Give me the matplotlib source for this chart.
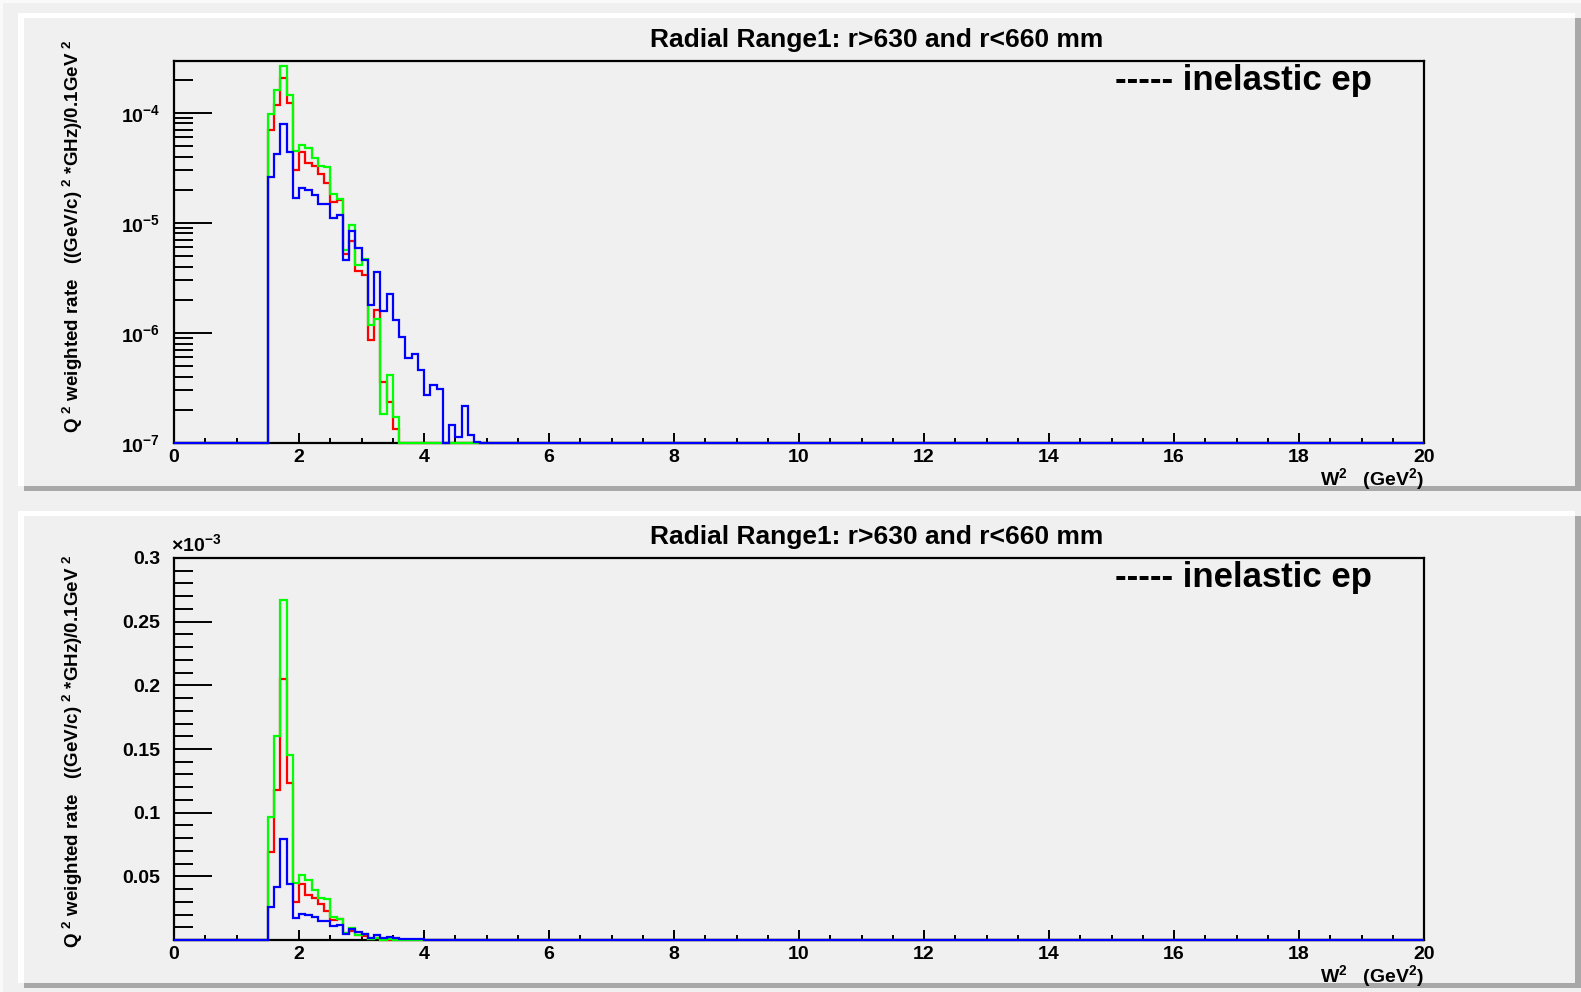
import numpy as np
import matplotlib
matplotlib.use("Agg")
import matplotlib.pyplot as plt
from matplotlib.patches import Rectangle
from matplotlib.ticker import (FixedLocator, FixedFormatter, MultipleLocator,
                               LogLocator, NullFormatter)

plt.rcParams["font.family"] = ["Liberation Sans", "DejaVu Sans"]
plt.rcParams["font.weight"] = "bold"
plt.rcParams["mathtext.fontset"] = "custom"
plt.rcParams["mathtext.rm"] = "Liberation Sans:bold"
plt.rcParams["mathtext.it"] = "Liberation Sans:bold"
plt.rcParams["mathtext.bf"] = "Liberation Sans:bold"
plt.rcParams["mathtext.sf"] = "Liberation Sans:bold"

# ---------------------------------------------------------------------------
# Histogram contents, 0.1 GeV^2 bins on 0..20; the lists start at W^2 = 1.5
# ---------------------------------------------------------------------------
bin_edges = np.round(np.arange(0, 20.0001, 0.1), 2)
first_bin = 1.5

rate_red = [6.95e-5, 1.175e-4, 2.05e-4, 1.23e-4, 3.01e-5, 4.36e-5, 3.53e-5,
            3.3e-5, 2.8e-5, 2.31e-5, 1.55e-5, 1.61e-5, 5.26e-6, 6.86e-6,
            3.64e-6, 3.34e-6, 8.69e-7, 1.61e-6, 3.59e-7, 2.36e-7, 1.35e-7]
rate_green = [9.67e-5, 1.6e-4, 2.67e-4, 1.45e-4, 4.49e-5, 5.08e-5, 4.74e-5,
              3.9e-5, 3.3e-5, 3.2e-5, 1.84e-5, 1.64e-5, 5.65e-6, 9.53e-6,
              4.12e-6, 4.74e-6, 1.17e-6, 1.35e-6, 1.85e-7, 4.18e-7, 1.72e-7]
rate_blue = [2.6e-5, 4.18e-5, 7.9e-5, 4.36e-5, 1.69e-5, 2.05e-5, 1.98e-5,
             1.79e-5, 1.48e-5, 1.48e-5, 1.11e-5, 1.17e-5, 4.64e-6, 8.45e-6,
             5.93e-6, 4.58e-6, 1.81e-6, 3.59e-6, 1.57e-6, 2.26e-6, 1.32e-6,
             9.2e-7, 5.93e-7, 6.4e-7, 4.58e-7, 2.71e-7, 3.34e-7, 3.12e-7, 0.0,
             1.47e-7, 1.13e-7, 2.17e-7, 1.19e-7, 1.03e-7, 1.01e-7]

title = "Radial Range1: r>630 and r<660 mm"
legend_text = "----- inelastic ep"
ylabel = "Q $^{2}$ weighted rate   ((GeV/c) $^{2}$ *GHz)/0.1GeV $^{2}$"
xlabel = "W$^{2}$   (GeV$^{2}$)"

log_ticks = [1e-7, 1e-6, 1e-5, 1e-4]
log_labels = ["10$^{-7}$", "10$^{-6}$", "10$^{-5}$", "10$^{-4}$"]
lin_ticks = [0.05, 0.1, 0.15, 0.2, 0.25, 0.3]
lin_labels = ["0.05", "0.1", "0.15", "0.2", "0.25", "0.3"]


def full_hist(vals):
    out = np.zeros(len(bin_edges) - 1)
    i0 = int(round(first_bin / 0.1))
    out[i0:i0 + len(vals)] = vals
    return out


hists = [("#ff0000", full_hist(rate_red)),
         ("#00ff00", full_hist(rate_green)),
         ("#0000ff", full_hist(rate_blue))]

W, H = 1581, 992
fig = plt.figure(figsize=(W / 100, H / 100), dpi=100)
fig.patch.set_facecolor("#f0f0f0")


def frect(x0, y0, x1, y1, color):
    # pixel box (top-left origin) -> figure rectangle
    r = Rectangle((x0 / W, 1 - y1 / H), (x1 - x0) / W, (y1 - y0) / H,
                  transform=fig.transFigure, facecolor=color,
                  edgecolor="none", zorder=-5)
    fig.add_artist(r)


def pad(x0, y0, x1, y1):
    frect(x0, y0, x1, y1, "#f0f0f0")
    frect(x0 - 6, y0 - 5, x1, y0, "white")
    frect(x0 - 6, y0 - 5, x0, y1, "white")
    frect(x0, y1, x1 + 6, y1 + 5, "#a8a8a8")
    frect(x1, y0, x1 + 6, y1 + 5, "#a8a8a8")


# canvas highlight, then the two pads
frect(0, 0, W, 3, "#fafafa")
frect(0, 0, 3, H, "#fafafa")
pad(24, 18, 1575, 486)
pad(24, 516, 1575, 983)

tick_fs = 14


def style_axes(ax):
    ax.set_facecolor("#f0f0f0")
    for s in ax.spines.values():
        s.set_linewidth(1.6)
        s.set_color("black")
        s.set_zorder(2)
    ax.set_xlim(0, 20)
    ax.xaxis.set_major_locator(MultipleLocator(2))
    ax.xaxis.set_minor_locator(MultipleLocator(0.5))
    ax.tick_params(axis="x", which="major", direction="in", length=7.5,
                   width=1.4, pad=4, labelsize=tick_fs, top=False)
    ax.tick_params(axis="x", which="minor", direction="in", length=3.8,
                   width=1.4, top=False)
    ax.tick_params(axis="y", which="major", direction="in", length=27,
                   width=1.4, pad=10, labelsize=tick_fs, right=False)
    ax.tick_params(axis="y", which="minor", direction="in", length=14,
                   width=1.4, right=False)
    for lab in ax.get_xticklabels() + ax.get_yticklabels():
        lab.set_fontweight("bold")


# ---- top pad: log scale ----
ax1 = fig.add_axes([174 / W, 1 - 443 / H, 1250 / W, 382 / H])
for color, vals in hists:
    ax1.stairs(np.clip(vals, 1e-7, None), bin_edges, color=color, lw=1.6,
               baseline=None, clip_on=False, zorder=3)
ax1.set_yscale("log")
ax1.set_ylim(1e-7, 2.95e-4)
ax1.yaxis.set_major_locator(FixedLocator(log_ticks))
ax1.yaxis.set_major_formatter(FixedFormatter(log_labels))
ax1.yaxis.set_minor_locator(LogLocator(base=10, subs=np.arange(2, 10),
                                       numticks=20))
ax1.yaxis.set_minor_formatter(NullFormatter())
style_axes(ax1)

# ---- bottom pad: linear scale, units of 1e-3 ----
ax2 = fig.add_axes([174 / W, 1 - 940 / H, 1250 / W, 382 / H])
for color, vals in hists:
    ax2.stairs(vals * 1e3, bin_edges, color=color, lw=1.6, baseline=None,
               clip_on=False, zorder=3)
ax2.set_ylim(0, 0.3)
ax2.yaxis.set_major_locator(FixedLocator(lin_ticks))
ax2.yaxis.set_major_formatter(FixedFormatter(lin_labels))
ax2.yaxis.set_minor_locator(MultipleLocator(0.01))
style_axes(ax2)

# ---- texts ----
for dy, yl_c in ((0, 236), (497, 751)):
    fig.text(877 / W, 1 - (40 + dy) / H, title, ha="center", va="center",
             fontsize=19, fontweight="bold")
    fig.text(1115 / W, 1 - (90 + dy) / H, legend_text, ha="left",
             va="baseline", fontsize=25, fontweight="bold")
    fig.text(1424 / W, 1 - (485 + dy) / H, xlabel, ha="right",
             va="baseline", fontsize=14, fontweight="bold")
    fig.text(73 / W, 1 - yl_c / H, ylabel, rotation=90, ha="center",
             va="center", fontsize=13.5, fontweight="bold")

fig.text(171 / W, 1 - 551 / H, "\u00d710$^{-3}$", ha="left", va="baseline",
         fontsize=14, fontweight="bold")

fig.savefig("out.png", dpi=100, facecolor=fig.get_facecolor())
